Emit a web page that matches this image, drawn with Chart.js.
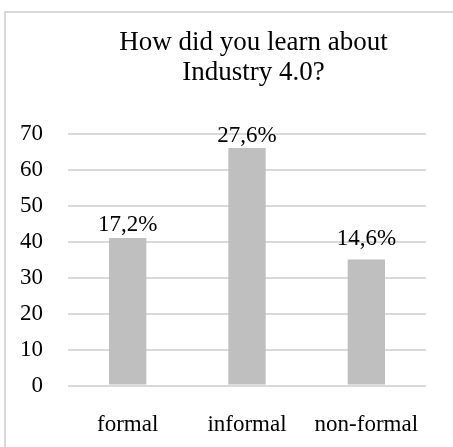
<!DOCTYPE html>
<html>
<head>
<meta charset="utf-8">
<script src="https://cdn.jsdelivr.net/npm/chart.js@4/dist/chart.umd.min.js"></script>
<style>
    html, body { margin: 0; padding: 0; background: #fff; overflow: hidden; }
    #wrap { position: relative; width: 453px; height: 447px; overflow: hidden; }
    #frame {
        position: absolute; left: 4px; top: 11px;
        width: 520px; height: 500px;
        border: 2px solid #d9d9d9;
    }
    #titulo {
        position: absolute; left: 0; top: 26px; width: 507px;
        text-align: center;
        font-family: 'Liberation Serif', 'Times New Roman', serif;
        font-size: 27px; line-height: 30px; color: #000;
    }
    #chart { position: absolute; left: 0; top: 0; }
</style>
</head>
<body>
<div id="wrap">
    <div id="frame"></div>
    <canvas id="chart" width="453" height="447"></canvas>
    <div id="titulo">How did you learn about<br>Industry 4.0?</div>
</div>
<script>
const categorias = ['formal', 'informal', 'non-formal'];
const respostas = [41, 66, 35];
const percentuais = ['17,2%', '27,6%', '14,6%'];
const eixoY = [0, 10, 20, 30, 40, 50, 60, 70];

const fonte = "'Liberation Serif', 'Times New Roman', serif";

// escreve o percentual acima de cada barra
const rotulosBarras = {
    id: 'rotulosBarras',
    afterDatasetsDraw(chart, args, opts) {
        const ctx = chart.ctx;
        const meta = chart.getDatasetMeta(0);
        ctx.save();
        ctx.font = '23px ' + fonte;
        ctx.fillStyle = '#000';
        ctx.textAlign = 'center';
        ctx.textBaseline = 'alphabetic';
        meta.data.forEach((bar, i) => {
            ctx.fillText(percentuais[i], bar.x, bar.y - opts.lift[i]);
        });
        ctx.restore();
    }
};

function getChart() {
    const chartData = {
        labels: categorias,
        datasets: [{
            label: 'Respostas',
            data: respostas,
            backgroundColor: '#bfbfbf',
            borderWidth: 0,
            categoryPercentage: 1,
            barPercentage: 0.313
        }]
    };

    const config = {
        type: 'bar',
        data: chartData,
        plugins: [rotulosBarras],
        options: {
            responsive: false,
            animation: false,
            layout: {
                padding: { top: 133.5, right: 27, bottom: 10, left: 0 }
            },
            plugins: {
                legend: { display: false },
                title: { display: false },
                tooltip: { enabled: false },
                rotulosBarras: { lift: [7, 6, 15] }
            },
            scales: {
                x: {
                    afterFit(scale) { scale.height = 51.5; },
                    grid: { display: false },
                    border: { display: false },
                    ticks: {
                        color: '#000',
                        padding: 18,
                        maxRotation: 0,
                        font: { family: fonte, size: 23 }
                    }
                },
                y: {
                    min: eixoY[0],
                    max: eixoY[eixoY.length - 1],
                    afterFit(scale) { scale.width = 68; },
                    afterBuildTicks(scale) {
                        scale.ticks = eixoY.map(v => ({ value: v }));
                    },
                    grid: { color: '#d9d9d9', lineWidth: 2, drawTicks: false },
                    border: { display: false },
                    ticks: {
                        color: '#000',
                        padding: 25,
                        font: { family: fonte, size: 23 }
                    }
                }
            }
        }
    };

    const ctx = document.getElementById('chart').getContext('2d');
    new Chart(ctx, config);
}

getChart();
</script>
</body>
</html>
